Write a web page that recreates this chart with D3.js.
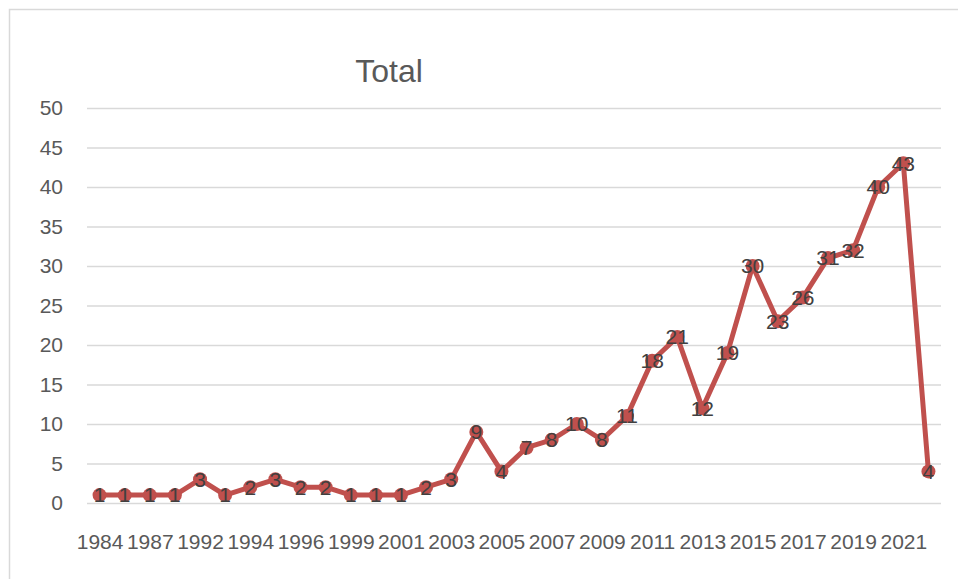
<!DOCTYPE html>
<html>
<head>
<meta charset="utf-8">
<script src="https://cdn.jsdelivr.net/npm/d3@7"></script>
<style>
	body { margin: 0; background: #fff; }
	svg text { font-family: "Liberation Sans", Arial, sans-serif; }
</style>
</head>
<body>
<div class="container"></div>
<script>
var years = ['1984','1986','1987','1990','1992','1993','1994','1995','1996','1998',
	'1999','2000','2001','2002','2003','2004','2005','2006','2007','2008',
	'2009','2010','2011','2012','2013','2014','2015','2016','2017','2018',
	'2019','2020','2021','2022'];
var totals = [1,1,1,1,3,1,2,3,2,2,1,1,1,2,3,9,4,7,8,10,8,11,18,21,12,19,30,23,26,31,32,40,43,4];
var yTicks = [0,5,10,15,20,25,30,35,40,45,50];
var chartTitle = 'Total';

var WIDTH = 958,
	HEIGHT = 579,
	LEFT = 87,
	RIGHT = 941,
	TOP = 108,
	BOTTOM = 503,
	LINE_COLOR = '#c0504d';

function translate(x, y) {
	return 'translate(' + x + ',' + y + ')';
}

var svg = d3.select('.container').append('svg')
	.attr('width', WIDTH)
	.attr('height', HEIGHT);

// chart frame
svg.append('rect')
	.attr('x', 9.5).attr('y', 9.5)
	.attr('width', WIDTH + 20).attr('height', HEIGHT + 20)
	.attr('fill', '#fff')
	.attr('stroke', '#d9d9d9')
	.attr('stroke-width', 1.5);

svg.append('text')
	.attr('x', 389).attr('y', 82)
	.attr('text-anchor', 'middle')
	.attr('font-size', 32)
	.attr('fill', '#595959')
	.text(chartTitle);

var xScale = d3.scalePoint()
	.domain(years)
	.range([LEFT, RIGHT])
	.padding(0.5);

var yScale = d3.scaleLinear()
	.domain([0, 50])
	.range([BOTTOM, TOP]);

// grid + y labels
var yAxis = d3.axisLeft(yScale)
	.tickValues(yTicks)
	.tickSize(-(RIGHT - LEFT))
	.tickPadding(24);

var yAxisGroup = svg.append('g')
	.attr('transform', translate(LEFT, 0))
	.call(yAxis);
yAxisGroup.select('.domain').remove();
yAxisGroup.selectAll('line')
	.attr('stroke', '#d9d9d9')
	.attr('stroke-width', 1.5);
yAxisGroup.selectAll('text')
	.attr('font-size', 21)
	.attr('fill', '#595959')
	.attr('font-family', '"Liberation Sans", Arial, sans-serif');

// x labels, every other category
var xAxis = d3.axisBottom(xScale)
	.tickValues(years.filter(function(d, i) { return i % 2 === 0; }))
	.tickSize(0)
	.tickPadding(31);

var xAxisGroup = svg.append('g')
	.attr('transform', translate(0, BOTTOM))
	.call(xAxis);
xAxisGroup.select('.domain').remove();
xAxisGroup.selectAll('text')
	.attr('font-size', 21)
	.attr('fill', '#595959')
	.attr('font-family', '"Liberation Sans", Arial, sans-serif');

var line = d3.line()
	.x(function(d, i) { return xScale(years[i]); })
	.y(function(d) { return yScale(d); });

svg.append('path')
	.datum(totals)
	.attr('d', line)
	.attr('fill', 'none')
	.attr('stroke', LINE_COLOR)
	.attr('stroke-width', 5)
	.attr('stroke-linejoin', 'round');

svg.selectAll('.dot')
	.data(totals).enter()
	.append('circle')
	.attr('class', 'dot')
	.attr('cx', function(d, i) { return xScale(years[i]); })
	.attr('cy', function(d) { return yScale(d); })
	.attr('r', 7)
	.attr('fill', LINE_COLOR);

svg.selectAll('.lbl')
	.data(totals).enter()
	.append('text')
	.attr('class', 'lbl')
	.attr('x', function(d, i) { return xScale(years[i]); })
	.attr('y', function(d) { return yScale(d); })
	.attr('dy', '0.35em')
	.attr('text-anchor', 'middle')
	.attr('font-size', 21)
	.attr('fill', '#404040')
	.text(function(d) { return d; });
</script>
</body>
</html>
